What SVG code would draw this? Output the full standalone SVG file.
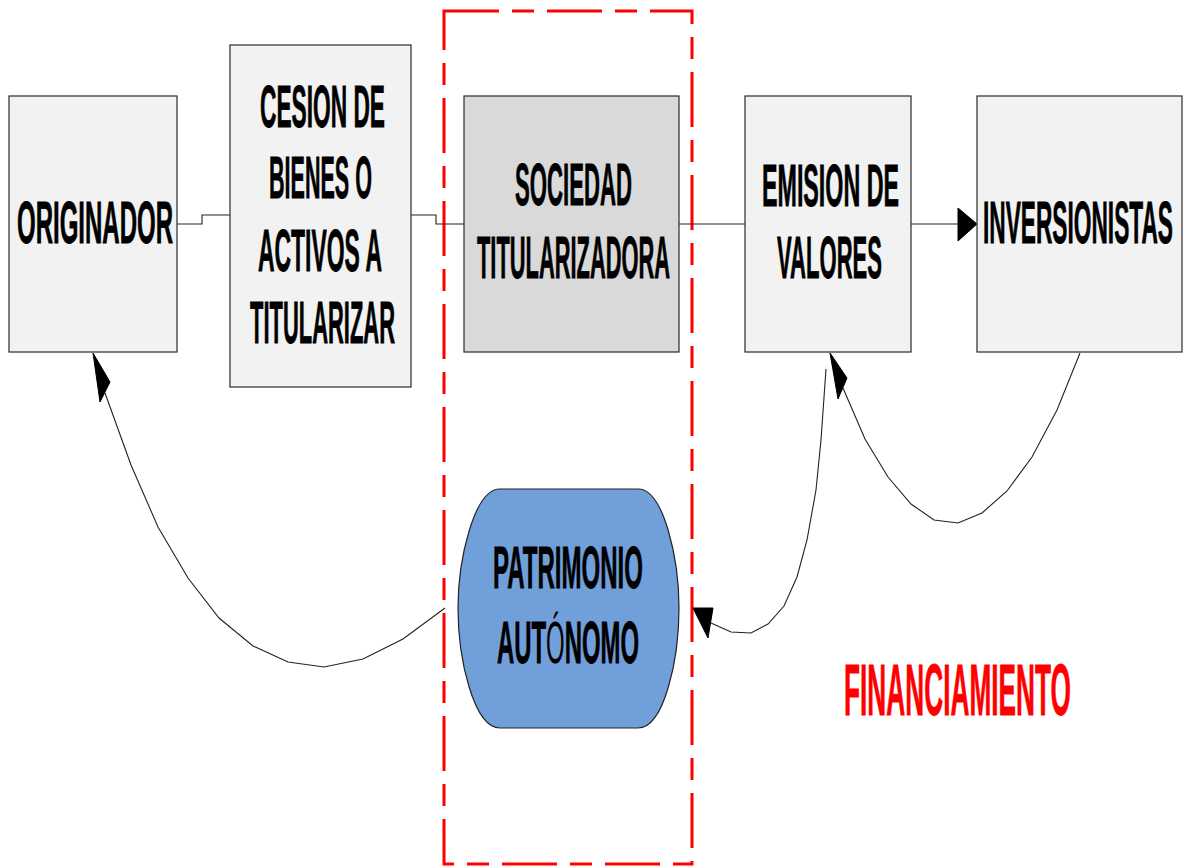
<svg xmlns="http://www.w3.org/2000/svg" width="1187" height="867" viewBox="0 0 1187 867">
<style>
.box{fill:#f2f2f2;stroke:#3a3a3a;stroke-width:1.3}
.dark{fill:#d9d9d9}
.lbl{font-family:"Liberation Sans",Arial,sans-serif;font-weight:bold;font-size:60px;fill:#000;stroke:#000;stroke-width:0.8}
.red{fill:#ff0000;stroke:#ff0000;font-size:72px}
.ln{fill:none;stroke:#222;stroke-width:1.1}
.ah{fill:#000;stroke:#000;stroke-width:1}
</style>
<rect width="1187" height="867" fill="#fff"/>
<g id="frame">
<rect x="444" y="11" width="248" height="853" fill="none" stroke="#ff0000" stroke-width="3" stroke-dasharray="55 13 22 13"/>
</g>
<g id="connectors">
<path class="ln" d="M177,224 H202 V215 H230"/>
<path class="ln" d="M411,215 H436 V224 H464"/>
<path class="ln" d="M679,224 H745"/>
<path class="ln" d="M911,224 H960"/>
<polygon class="ah" points="977,224 958,208 958,241"/>
<polyline class="ln" points="445,608 403,639 363,659 324,667 288,662 253,646 219,618 188,578 158,527 131,465 105,393"/>
<polygon class="ah" points="93,353 110,382 100,402"/>
<polyline class="ln" points="826,369 821,440 816,490 807,540 797,577 784,606 768,624 751,633 731,632 711,623"/>
<polygon class="ah" points="693,608 713,608 708,638"/>
<polyline class="ln" points="1080,353 1057,410 1032,457 1007,491 982,513 958,523 934,520 911,504 888,477 865,439 843,388"/>
<polygon class="ah" points="830,353 847,378 838,399"/>
</g>
<g id="originador">
<rect class="box" x="9" y="96" width="168" height="256"/>
<text class="lbl" x="17" y="243" textLength="156" lengthAdjust="spacingAndGlyphs">ORIGINADOR</text>
</g>
<g id="cesion">
<rect class="box" x="230" y="45" width="181" height="342"/>
<text class="lbl" x="260" y="127" textLength="125" lengthAdjust="spacingAndGlyphs">CESION DE</text>
<text class="lbl" x="269" y="198" textLength="103" lengthAdjust="spacingAndGlyphs">BIENES O</text>
<text class="lbl" x="258" y="271" textLength="124" lengthAdjust="spacingAndGlyphs">ACTIVOS A</text>
<text class="lbl" x="250" y="343" textLength="145" lengthAdjust="spacingAndGlyphs">TITULARIZAR</text>
</g>
<g id="sociedad">
<rect class="box dark" x="464" y="96" width="215" height="256"/>
<text class="lbl" x="515" y="205" textLength="117" lengthAdjust="spacingAndGlyphs">SOCIEDAD</text>
<text class="lbl" x="477" y="278" textLength="193" lengthAdjust="spacingAndGlyphs">TITULARIZADORA</text>
</g>
<g id="emision">
<rect class="box" x="745" y="96" width="166" height="256"/>
<text class="lbl" x="762" y="206" textLength="137" lengthAdjust="spacingAndGlyphs">EMISION DE</text>
<text class="lbl" x="777" y="278" textLength="105" lengthAdjust="spacingAndGlyphs">VALORES</text>
</g>
<g id="inversionistas">
<rect class="box" x="977" y="96" width="205" height="256"/>
<text class="lbl" x="983" y="243" textLength="190" lengthAdjust="spacingAndGlyphs">INVERSIONISTAS</text>
</g>
<g id="patrimonio">
<path d="M500,489 H638 C664,489 679,560 679,608 C679,660 664,728 638,728 H500 C474,728 458,660 458,608 C458,560 474,489 500,489 Z" fill="#719fda" stroke="#222" stroke-width="1.2"/>
<text class="lbl" x="493" y="588" textLength="150" lengthAdjust="spacingAndGlyphs">PATRIMONIO</text>
<text class="lbl" x="497" y="663" textLength="142" lengthAdjust="spacingAndGlyphs">AUT<tspan font-weight="normal" stroke-width="0">Ó</tspan>NOMO</text>
</g>
<g id="financiamiento">
<text class="lbl red" x="844" y="715" textLength="227" lengthAdjust="spacingAndGlyphs">FINANCIAMIENTO</text>
</g>
</svg>
